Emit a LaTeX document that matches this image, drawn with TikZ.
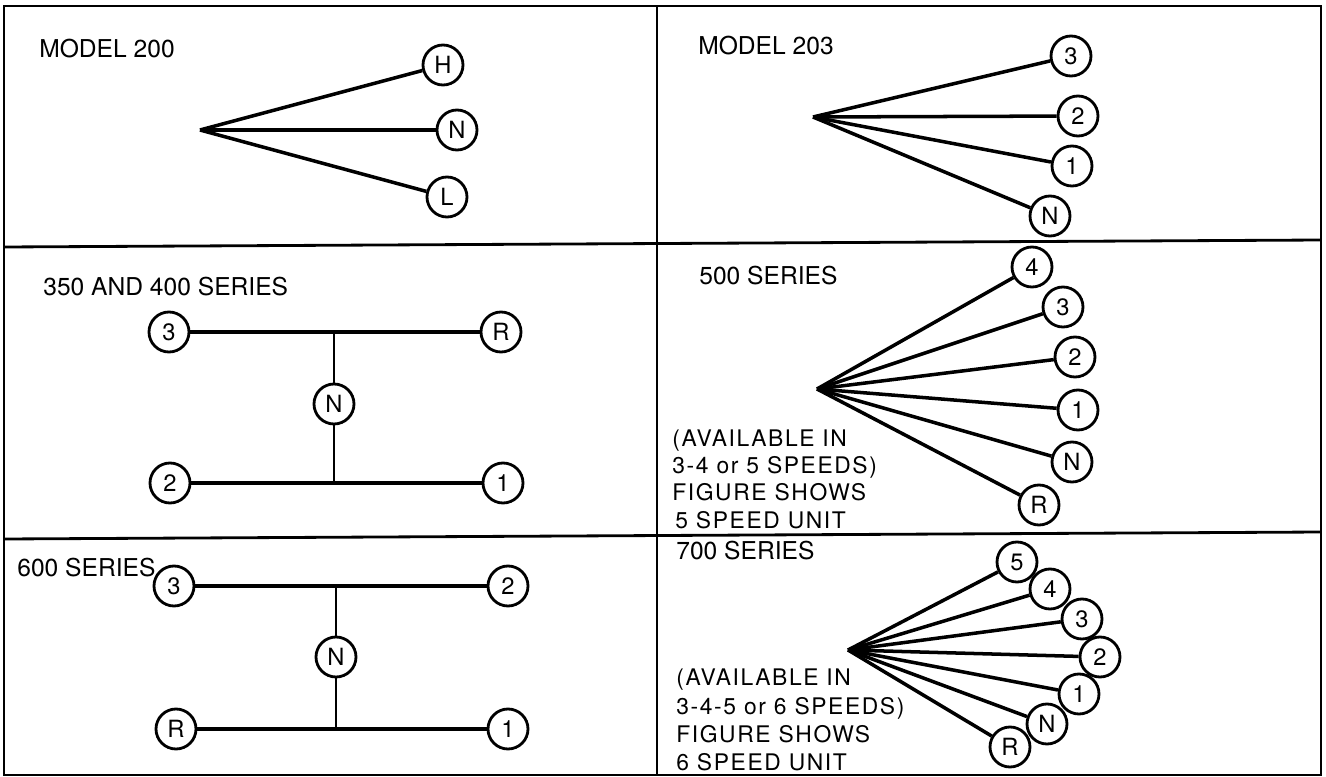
\documentclass[tikz,border=0pt]{standalone}
\usepackage{fontspec}
\setmainfont{TeX Gyre Heros}
\newfontfamily\notefont[LetterSpace=7]{TeX Gyre Heros}
\usepackage{tikz}
\tikzset{
  knob/.style={circle, draw, line width=1.6pt, fill=white, minimum size=0.8cm,
               inner sep=0pt, font=\fontsize{13.5}{13.5}\selectfont},
  title/.style={anchor=base west, inner sep=0pt, font=\fontsize{14}{16}\selectfont},
  note/.style={anchor=base west, inner sep=0pt, font=\notefont\fontsize{13}{15}\selectfont},
  rod/.style={line width=2pt},
  stem/.style={line width=1.3pt},
  frame/.style={line width=1.6pt},
}

\begin{document}
\begin{tikzpicture}[x=0.02cm, y=-0.02cm]
  \useasboundingbox (0,0) rectangle (1326,777);

  % Frame
  \draw[frame] (4,6) rectangle (1321,775);
  \draw[frame] (657,6) -- (657,775);
  \draw[frame] (4,247) -- (1321,240);
  \draw[frame] (4,539) -- (1321,532);

  % Model 200
  \node[title] (T200) at (39,58) {MODEL 200};
  \coordinate (A200) at (200,130);
  \node[knob] (H200) at (443,65) {H};
  \node[knob] (N200) at (457,130) {N};
  \node[knob] (L200) at (447,197) {L};
  \draw[rod] (A200) -- (H200);
  \draw[rod] (A200) -- (N200);
  \draw[rod] (A200) -- (L200);

  % Model 203
  \node[title] (T203) at (698,55) {MODEL 203};
  \coordinate (A203) at (813,117);
  \node[knob] (G3a) at (1071,56) {3};
  \node[knob] (G2a) at (1078,116) {2};
  \node[knob] (G1a) at (1072,166) {1};
  \node[knob] (GNa) at (1050,216) {N};
  \draw[rod] (A203) -- (G3a);
  \draw[rod] (A203) -- (G2a);
  \draw[rod] (A203) -- (G1a);
  \draw[rod] (A203) -- (GNa);

  % 350 and 400 series
  \node[title] (T350) at (43,295) {350 AND 400 SERIES};
  \node[knob] (G3b) at (169,332) {3};
  \node[knob] (GRb) at (501,332) {R};
  \node[knob] (GNb) at (334,404) {N};
  \node[knob] (G2b) at (170,483) {2};
  \node[knob] (G1b) at (503,483) {1};
  \coordinate (Ub) at (334,332);
  \coordinate (Db) at (334,483);
  \draw[rod] (G3b) -- (GRb);
  \draw[rod] (G2b) -- (G1b);
  \draw[stem] (Ub) -- (GNb);
  \draw[stem] (GNb) -- (Db);

  % 500 series
  \node[title] (T500) at (699,284) {500 SERIES};
  \coordinate (A500) at (817,389);
  \node[knob] (G4c) at (1032,267) {4};
  \node[knob] (G3c) at (1063,307) {3};
  \node[knob] (G2c) at (1075,357) {2};
  \node[knob] (G1c) at (1078,410) {1};
  \node[knob] (GNc) at (1072,462) {N};
  \node[knob] (GRc) at (1039,505) {R};
  \draw[rod] (A500) -- (G4c);
  \draw[rod] (A500) -- (G3c);
  \draw[rod] (A500) -- (G2c);
  \draw[rod] (A500) -- (G1c);
  \draw[rod] (A500) -- (GNc);
  \draw[rod] (A500) -- (GRc);
  \node[note] (N5a) at (672,446) {(AVAILABLE IN};
  \node[note] (N5b) at (672,473) {3-4 or 5 SPEEDS)};
  \node[note] (N5c) at (672,500) {FIGURE SHOWS};
  \node[note] (N5d) at (675,528) {5 SPEED UNIT};

  % 600 series
  \node[title] (T600) at (17,576) {600 SERIES};
  \node[knob] (G3d) at (174,586) {3};
  \node[knob] (G2d) at (508,586) {2};
  \node[knob] (GNd) at (336,657) {N};
  \node[knob] (GRd) at (176,729) {R};
  \node[knob] (G1d) at (508,729) {1};
  \coordinate (Ud) at (336,586);
  \coordinate (Dd) at (336,729);
  \draw[rod] (G3d) -- (G2d);
  \draw[rod] (GRd) -- (G1d);
  \draw[stem] (Ud) -- (GNd);
  \draw[stem] (GNd) -- (Dd);

  % 700 series
  \node[title] (T700) at (676,559) {700 SERIES};
  \coordinate (A700) at (848,650);
  \node[knob] (G5e) at (1017,562) {5};
  \node[knob] (G4e) at (1050,589) {4};
  \node[knob] (G3e) at (1082,619) {3};
  \node[knob] (G2e) at (1100,657) {2};
  \node[knob] (G1e) at (1079,694) {1};
  \node[knob] (GNe) at (1047,724) {N};
  \node[knob] (GRe) at (1010,747) {R};
  \draw[rod] (A700) -- (G5e);
  \draw[rod] (A700) -- (G4e);
  \draw[rod] (A700) -- (G3e);
  \draw[rod] (A700) -- (G2e);
  \draw[rod] (A700) -- (G1e);
  \draw[rod] (A700) -- (GNe);
  \draw[rod] (A700) -- (GRe);
  \node[note] (N7a) at (676,685) {(AVAILABLE IN};
  \node[note] (N7b) at (676,714) {3-4-5 or 6 SPEEDS)};
  \node[note] (N7c) at (676,742) {FIGURE SHOWS};
  \node[note] (N7d) at (676,770) {6 SPEED UNIT};
\end{tikzpicture}
\end{document}
